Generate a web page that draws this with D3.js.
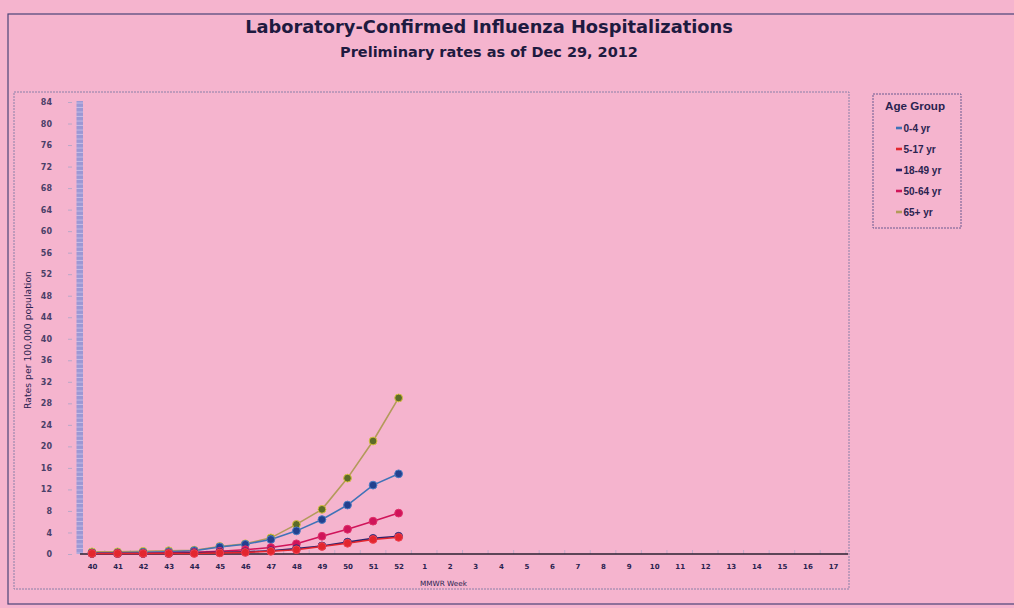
<!DOCTYPE html>
<html><head><meta charset="utf-8">
<script src="https://cdn.jsdelivr.net/npm/d3@7"></script>
<style>
html,body{margin:0;padding:0;background:#f5b4ce;}
svg{display:block;}
text{font-family:"DejaVu Sans",Verdana,sans-serif;}
</style></head>
<body>
<svg id="c" width="1014" height="608"></svg>
<script>
// ---- data ----
const weeks = ["40","41","42","43","44","45","46","47","48","49","50","51","52",
  "1","2","3","4","5","6","7","8","9","10","11","12","13","14","15","16","17"];
const yTicks = [0,4,8,12,16,20,24,28,32,36,40,44,48,52,56,60,64,68,72,76,80,84];
const ageGroups = ["0-4 yr","5-17 yr","18-49 yr","50-64 yr","65+ yr"];
const rate0to4   = [0.2,0.2,0.3,0.4,0.6,1.3,1.8,2.7,4.3,6.4,9.1,12.8,14.9];
const rate5to17  = [0.1,0.1,0.1,0.1,0.1,0.2,0.3,0.5,0.8,1.4,2.0,2.7,3.1];
const rate18to49 = [0.1,0.1,0.1,0.1,0.2,0.3,0.4,0.6,1.0,1.5,2.2,2.9,3.3];
const rate50to64 = [0.1,0.1,0.1,0.2,0.3,0.5,0.8,1.2,1.9,3.3,4.6,6.1,7.6];
const rate65plus = [0.4,0.4,0.5,0.6,0.7,1.4,1.9,3.0,5.5,8.3,14.1,21.0,29.0];
const seriesValues = [rate0to4, rate5to17, rate18to49, rate50to64, rate65plus];

const lineColors   = ["#3f73b8","#e3262e","#2a236e","#d0145a","#b39a5a"];
const markerFill   = ["#23408e","#e3262e","#1c1a5a","#d0145a","#5c6b28"];
const markerStroke = ["#4a7cc4","#f04050","#3a3585","#e0306a","#d8c040"];

const svg = d3.select("#c");
const ink = "#2a2350";

// outer chart border
svg.append("rect").attr("x",8).attr("y",14).attr("width",1012).attr("height",590)
  .attr("fill","none").attr("stroke","#4a4478").attr("stroke-width",1.2);

// plot area frame (dashed)
svg.append("rect").attr("x",14).attr("y",92).attr("width",835).attr("height",497)
  .attr("fill","none").attr("stroke","#8a80a8").attr("stroke-width",1).attr("stroke-dasharray","2,1");

function fitText(sel, target){
  const w = sel.node().getComputedTextLength();
  const fs = parseFloat(sel.attr("font-size"));
  sel.attr("font-size", fs*target/w);
}
// title
const t1 = svg.append("text").attr("x",489).attr("y",33).attr("text-anchor","middle")
  .attr("font-weight","bold").attr("font-size",16).attr("fill","#1e1a40")
  .text("Laboratory-Confirmed Influenza Hospitalizations");
fitText(t1, 488);
const t2 = svg.append("text").attr("x",489).attr("y",57).attr("text-anchor","middle")
  .attr("font-weight","bold").attr("font-size",13).attr("fill","#1e1a40")
  .text("Preliminary rates as of Dec 29, 2012");
fitText(t2, 298);

// scales
const x = d3.scalePoint().domain(weeks).range([92, 833]);
const y = d3.scaleLinear().domain([0,84]).range([554, 102]);

// hatched left bar
const defs = svg.append("defs");
const pat = defs.append("pattern").attr("id","hatch").attr("patternUnits","userSpaceOnUse")
  .attr("width",8).attr("height",4.5);
pat.append("rect").attr("width",8).attr("height",4.5).attr("fill","#9c98d4");
pat.append("rect").attr("y",3.5).attr("width",8).attr("height",1).attr("fill","#c4bce6");
svg.append("rect").attr("x",76.5).attr("y",y(84)-1).attr("width",6.5).attr("height",y(0)-y(84)+1)
  .attr("fill","url(#hatch)");

// y axis
const yAxis = d3.axisLeft(y).tickValues(yTicks).tickSize(4).tickPadding(16);
const gy = svg.append("g").attr("transform","translate(72,0)").call(yAxis);
gy.select(".domain").remove();
gy.selectAll(".tick line").attr("stroke","#b9a8c8");
gy.selectAll("text").attr("font-size",8).attr("font-weight","bold").attr("fill","#4a4068");

const yt = svg.append("text").attr("transform","translate(31,340) rotate(-90)").attr("text-anchor","middle")
  .attr("font-size",8).attr("fill",ink).text("Rates per 100,000 population");
fitText(yt, 138);

// x axis
const xAxis = d3.axisBottom(x).tickSize(0).tickPadding(10);
const gx = svg.append("g").attr("transform","translate(0,554)").call(xAxis);
gx.select(".domain").remove();
gx.selectAll("text").attr("font-size",7).attr("font-weight","bold").attr("fill","#2a2350");
// faint minor ticks
svg.append("g").selectAll("line").data(weeks).join("line")
  .attr("x1",d=>x(d)+12.8).attr("x2",d=>x(d)+12.8).attr("y1",550).attr("y2",554)
  .attr("stroke","#b9a8c8").attr("stroke-width",0.8);
svg.append("line").attr("x1",80).attr("x2",848).attr("y1",554).attr("y2",554)
  .attr("stroke","#2a2030").attr("stroke-width",1.6);

const xt = svg.append("text").attr("x",420).attr("y",586).attr("font-size",6.5).attr("fill",ink).text("MMWR Week");
fitText(xt, 47);

// series
const line = d3.line().x((d,i)=>x(weeks[i])).y(d=>y(d));
const drawOrder = [4,0,3,2,1];
drawOrder.forEach(k=>{
  svg.append("path").datum(seriesValues[k]).attr("d",line).attr("fill","none")
    .attr("stroke",lineColors[k]).attr("stroke-width",1.6);
});
drawOrder.forEach(k=>{
  svg.append("g").selectAll("circle").data(seriesValues[k]).join("circle")
    .attr("cx",(d,i)=>x(weeks[i])).attr("cy",d=>y(d)).attr("r",3.9)
    .attr("fill",markerFill[k]).attr("stroke",markerStroke[k]).attr("stroke-width",1);
});

// legend
svg.append("rect").attr("x",873).attr("y",94).attr("width",88).attr("height",134)
  .attr("fill","none").attr("stroke","#6a5a90").attr("stroke-width",1).attr("stroke-dasharray","2,1");
svg.append("text").attr("x",885).attr("y",110).attr("font-size",9).attr("font-weight","bold")
  .attr("fill",ink).style("font-family","'Liberation Sans',Arial,sans-serif").text("Age Group")
  .call(s=>fitText(s,60));
const lg = svg.append("g").selectAll("g").data(ageGroups).join("g")
  .attr("transform",(d,i)=>`translate(896,${128+i*21})`);
lg.append("line").attr("x1",0).attr("x2",6).attr("y1",0).attr("y2",0)
  .attr("stroke",(d,i)=>lineColors[i]).attr("stroke-width",2.6);
lg.append("text").attr("x",7.5).attr("y",3.5).attr("font-size",10).attr("font-weight","bold")
  .style("font-family","'Liberation Sans',Arial,sans-serif")
  .attr("fill",ink).text(d=>d);
</script>
</body></html>
